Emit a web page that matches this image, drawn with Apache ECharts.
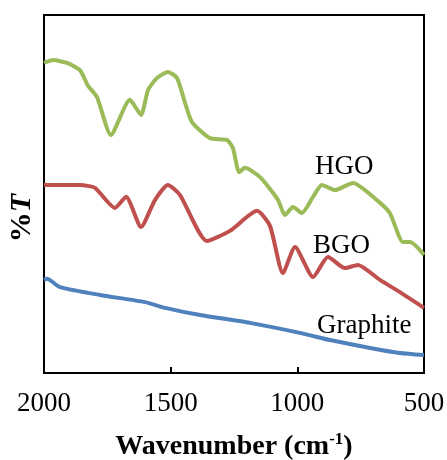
<!DOCTYPE html>
<html>
<head>
<meta charset="utf-8">
<script src="https://cdn.jsdelivr.net/npm/echarts@6/dist/echarts.min.js"></script>
<style>
  html, body { margin: 0; padding: 0; background: #fff; }
  #main { width: 447px; height: 460px; }
</style>
</head>
<body>
<div id="main"></div>
<script>
// FTIR spectra, wavenumber (cm-1) vs %T (arbitrary offset units)
var hgoWn  = [2000,1964,1909,1858,1826,1791,1736,1661,1617,1589,1554,1511,1475,1443,1416,1345,1278,1254,1230,1207,1147,1076,1049,1017,982,938,903,851,780,686,635,583,555,500];
var hgoT   = [86.6,87.4,86.6,84.6,80.2,77.1,66.5,76.3,72.1,79.1,82.4,84.1,82.4,75.4,70.1,65.6,65.1,62.8,56.1,57.3,54.7,48.3,44.1,46.4,44.7,49.2,52.5,51.1,53.1,48.3,44.7,36.6,36.6,33.0];

var bgoWn  = [2000,1858,1799,1720,1676,1617,1562,1511,1463,1357,1266,1159,1108,1057,1009,938,879,812,761,674,595,500];
var bgoT   = [52.5,52.5,51.7,46.1,49.2,40.8,48.3,52.5,49.7,36.9,39.7,45.3,41.1,27.9,35.2,26.8,32.4,29.3,30.2,26.0,22.6,18.2];

var grWn   = [2000,1988,1937,1779,1601,1522,1384,1187,990,871,713,595,500];
var grT    = [26.0,26.3,24.0,21.8,19.8,18.2,16.2,14.0,11.2,9.2,7.0,5.6,5.0];

var xTicks = [500, 2000, 500]; // min, max, interval

function pairs(xs, ys) {
  return xs.map(function (x, i) { return [x, ys[i]]; });
}

var myChart = echarts.init(document.getElementById('main'));
var serif = '"Liberation Serif", "Times New Roman", serif';

option = {
  animation: false,
  grid: {
    left: 44, right: 23, top: 15, bottom: 87,
    outerBoundsMode: 'none',
    containLabel: false,
    show: true, borderColor: '#000', borderWidth: 2
  },
  xAxis: {
    type: 'value',
    inverse: true,
    min: xTicks[0], max: xTicks[1], interval: xTicks[2],
    axisLine: { lineStyle: { color: '#000', width: 2 } },
    axisTick: { inside: true, length: 6, lineStyle: { color: '#000', width: 2 } },
    splitLine: { show: false },
    axisLabel: { color: '#000', fontFamily: serif, fontSize: 27, margin: 17,
      formatter: function (v) { return String(v); } },
    name: '{b|Wavenumber (cm}{s|-1}{b|)}',
    nameLocation: 'middle',
    nameGap: 58,
    nameTextStyle: {
      rich: {
        b: { fontFamily: serif, fontWeight: 'bold', fontSize: 28, color: '#000' },
        s: { fontFamily: serif, fontWeight: 'bold', fontSize: 17, color: '#000', verticalAlign: 'top', padding: [0, 0, 14, 0] }
      }
    }
  },
  yAxis: {
    type: 'value',
    min: 0, max: 100,
    axisLine: { show: true, lineStyle: { color: '#000', width: 2 } },
    axisTick: { show: false },
    axisLabel: { show: false },
    splitLine: { show: false }
  },
  series: [
    { name: 'HGO', type: 'line', data: pairs(hgoWn, hgoT), smooth: 0.2, showSymbol: false,
      lineStyle: { color: '#9BBB59', width: 4 } },
    { name: 'BGO', type: 'line', data: pairs(bgoWn, bgoT), smooth: 0.2, showSymbol: false,
      lineStyle: { color: '#C0504D', width: 4 } },
    { name: 'Graphite', type: 'line', data: pairs(grWn, grT), smooth: 0.2, showSymbol: false,
      lineStyle: { color: '#4F81BD', width: 4 } }
  ],
  graphic: [
    { type: 'text', x: 22, y: 218, rotation: Math.PI / 2,
      style: { text: '{p|%}{t|T}', align: 'center', verticalAlign: 'middle',
        rich: {
          p: { fontFamily: serif, fontWeight: 'bold', fontSize: 30, fill: '#000' },
          t: { fontFamily: serif, fontWeight: 'bold', fontStyle: 'italic', fontSize: 30, fill: '#000' }
        } } },
    { type: 'text', left: 315, top: 153, style: { text: 'HGO', font: '27px ' + serif, fill: '#000' } },
    { type: 'text', left: 313, top: 232, style: { text: 'BGO', font: '27px ' + serif, fill: '#000' } },
    { type: 'text', left: 317, top: 312, style: { text: 'Graphite', font: '27px ' + serif, fill: '#000' } }
  ]
};
myChart.setOption(option);
</script>
</body>
</html>
